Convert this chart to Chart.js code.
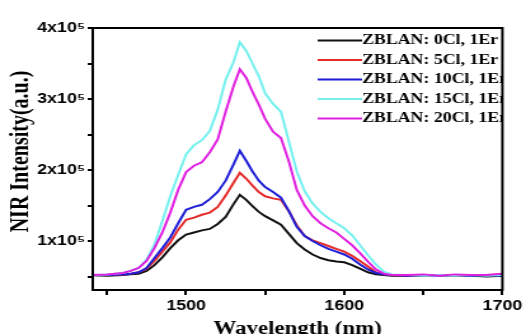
<!DOCTYPE html>
<html>
<head>
<meta charset="utf-8">
<script src="https://cdn.jsdelivr.net/npm/chart.js@4"></script>
<style>
  html, body { margin: 0; padding: 0; background: #fff; }
</style>
</head>
<body>
<!-- the source figure is stretched sideways, so the canvas is too -->
<canvas id="nir-chart" width="414" height="334" style="width:526px;height:334px;display:block"></canvas>
<script>
// Wavelength grid (nm)
const wavelengths = [
  1440, 1450, 1460, 1465, 1470, 1475, 1480, 1485, 1490, 1495,
  1500, 1505, 1510, 1515, 1520, 1525, 1530, 1534, 1538, 1542,
  1546, 1550, 1555, 1560, 1565, 1570, 1575, 1580, 1585, 1590,
  1595, 1600, 1605, 1610, 1615, 1620, 1625, 1630, 1640, 1650,
  1660, 1670, 1680, 1690, 1700
];

// NIR intensity, in units of 10^5 a.u.
const cl0 = [
  0.52, 0.51, 0.52, 0.53, 0.54, 0.58, 0.66, 0.77, 0.90, 1.01,
  1.09, 1.12, 1.15, 1.17, 1.24, 1.34, 1.52, 1.65, 1.58, 1.49,
  1.41, 1.35, 1.29, 1.23, 1.10, 0.97, 0.88, 0.81, 0.76, 0.73,
  0.71, 0.70, 0.66, 0.61, 0.56, 0.53, 0.52, 0.51, 0.51, 0.51,
  0.52, 0.51, 0.51, 0.50, 0.51
];
const cl5 = [
  0.52, 0.52, 0.53, 0.54, 0.56, 0.61, 0.72, 0.85, 0.98, 1.16,
  1.30, 1.33, 1.37, 1.40, 1.48, 1.64, 1.82, 1.96, 1.88, 1.78,
  1.69, 1.63, 1.60, 1.58, 1.42, 1.22, 1.07, 1.01, 0.97, 0.93,
  0.89, 0.85, 0.79, 0.72, 0.64, 0.56, 0.53, 0.52, 0.51, 0.52,
  0.52, 0.51, 0.52, 0.52, 0.53
];
const cl10 = [
  0.52, 0.52, 0.53, 0.54, 0.56, 0.62, 0.76, 0.90, 1.05, 1.25,
  1.44, 1.48, 1.51, 1.59, 1.69, 1.85, 2.08, 2.27, 2.13, 1.98,
  1.85, 1.76, 1.69, 1.61, 1.42, 1.20, 1.07, 1.00, 0.94, 0.89,
  0.85, 0.81, 0.75, 0.67, 0.60, 0.55, 0.53, 0.52, 0.51, 0.52,
  0.51, 0.52, 0.51, 0.52, 0.51
];
const cl15 = [
  0.52, 0.53, 0.55, 0.58, 0.62, 0.74, 0.95, 1.28, 1.63, 1.93,
  2.22, 2.35, 2.42, 2.55, 2.85, 3.27, 3.52, 3.80, 3.68, 3.50,
  3.32, 3.08, 2.93, 2.82, 2.40, 1.98, 1.70, 1.53, 1.41, 1.32,
  1.25, 1.18, 1.08, 0.94, 0.80, 0.67, 0.57, 0.53, 0.52, 0.51,
  0.52, 0.51, 0.52, 0.51, 0.52
];
const cl20 = [
  0.52, 0.53, 0.55, 0.58, 0.62, 0.72, 0.90, 1.12, 1.40, 1.72,
  1.97, 2.06, 2.11, 2.25, 2.43, 2.82, 3.18, 3.42, 3.30, 3.10,
  2.92, 2.72, 2.54, 2.45, 2.12, 1.72, 1.50, 1.35, 1.25, 1.18,
  1.12, 1.03, 0.94, 0.83, 0.71, 0.60, 0.54, 0.52, 0.52, 0.53,
  0.51, 0.53, 0.52, 0.52, 0.54
];

const seriesLabels = [
  'ZBLAN: 0Cl, 1Er',
  'ZBLAN: 5Cl, 1Er',
  'ZBLAN: 10Cl, 1Er',
  'ZBLAN: 15Cl, 1Er',
  'ZBLAN: 20Cl, 1Er'
];
const seriesValues = [cl0, cl5, cl10, cl15, cl20];
const seriesColors = ['#111111', '#e42a2a', '#1e1ed6', '#74f0ee', '#e020e0'];
const drawOrder = [4, 3, 2, 1, 0]; // magenta ends up on top

const xTicks = [1450, 1500, 1550, 1600, 1650, 1700];
const yTicks = [0.5, 1, 1.5, 2, 2.5, 3, 3.5, 4];

const serif = '"Liberation Serif", "Times New Roman", serif';
const sans = '"Liberation Sans", Arial, sans-serif';

// legend drawn inside the plot, top right, clipped by the frame
const insideLegend = {
  id: 'insideLegend',
  afterDatasetsDraw(chart) {
    const { ctx, chartArea } = chart;
    const lineStart = 250, lineEnd = 285, top = 40.5, step = 19.5;
    ctx.save();
    ctx.beginPath();
    ctx.rect(chartArea.left, chartArea.top, chartArea.right - chartArea.left, chartArea.bottom - chartArea.top);
    ctx.clip();
    ctx.font = 'bold 14px ' + serif;
    ctx.textBaseline = 'middle';
    ctx.textAlign = 'left';
    chart.data.datasets.forEach((ds, i) => {
      const y = top + i * step;
      ctx.strokeStyle = ds.borderColor;
      ctx.lineWidth = 2;
      ctx.beginPath();
      ctx.moveTo(lineStart, y);
      ctx.lineTo(lineEnd, y);
      ctx.stroke();
      ctx.fillStyle = '#000';
      ctx.fillText(ds.label, lineEnd, y);
    });
    ctx.restore();
  }
};

// closed box around the plot
const frame = {
  id: 'frame',
  afterDraw(chart) {
    const { ctx, chartArea } = chart;
    ctx.save();
    ctx.strokeStyle = '#000';
    ctx.lineWidth = 2;
    ctx.strokeRect(chartArea.left, chartArea.top, chartArea.right - chartArea.left, chartArea.bottom - chartArea.top);
    ctx.restore();
  }
};

const ctx = document.getElementById('nir-chart').getContext('2d');
new Chart(ctx, {
  type: 'line',
  data: {
    datasets: seriesLabels.map((label, i) => ({
      label: label,
      data: wavelengths.map((w, j) => ({ x: w, y: seriesValues[i][j] })),
      borderColor: seriesColors[i],
      borderWidth: 2,
      pointRadius: 0,
      tension: 0,
      fill: false,
      order: drawOrder[i]
    }))
  },
  options: {
    responsive: false,
    devicePixelRatio: 1,
    animation: false,
    layout: { padding: { top: 28, right: 0, bottom: 0, left: 0 } },
    plugins: {
      legend: { display: false },
      tooltip: { enabled: false }
    },
    scales: {
      x: {
        type: 'linear',
        min: 1441,
        max: 1700,
        afterBuildTicks: (scale) => { scale.ticks = xTicks.map(v => ({ value: v })); },
        afterFit: (scale) => { scale.height = 44; },
        grid: { drawOnChartArea: false, tickLength: 5, color: '#000', lineWidth: 2 },
        border: { color: '#000', width: 2 },
        ticks: {
          autoSkip: false,
          maxRotation: 0,
          padding: 3,
          color: '#000',
          font: { family: sans, size: 14, weight: 'bold' },
          callback: (v) => (v % 100 === 0 ? String(v) : '')
        },
        title: {
          display: true,
          text: 'Wavelength (nm)',
          color: '#000',
          font: { family: serif, size: 18, weight: 'bold' },
          padding: { top: 0, bottom: -6 }
        }
      },
      y: {
        min: 0.31,
        max: 4,
        afterBuildTicks: (scale) => { scale.ticks = yTicks.map(v => ({ value: v })); },
        afterFit: (scale) => { scale.width = 73; },
        grid: { drawOnChartArea: false, tickLength: 4, color: '#000', lineWidth: 2 },
        border: { color: '#000', width: 2 },
        ticks: {
          padding: 2,
          color: '#000',
          font: { family: sans, size: 14, weight: 'bold' },
          callback: (v) => (Number.isInteger(v) ? v + 'x10\u2075' : '')
        },
        title: {
          display: true,
          // leading spaces nudge the centred title up, as in the figure
          text: '   NIR Intensity(a.u.)',
          color: '#000',
          font: { family: serif, size: 20, weight: 'bold' },
          padding: { top: 5, bottom: 0 }
        }
      }
    }
  },
  plugins: [insideLegend, frame]
});
</script>
</body>
</html>
